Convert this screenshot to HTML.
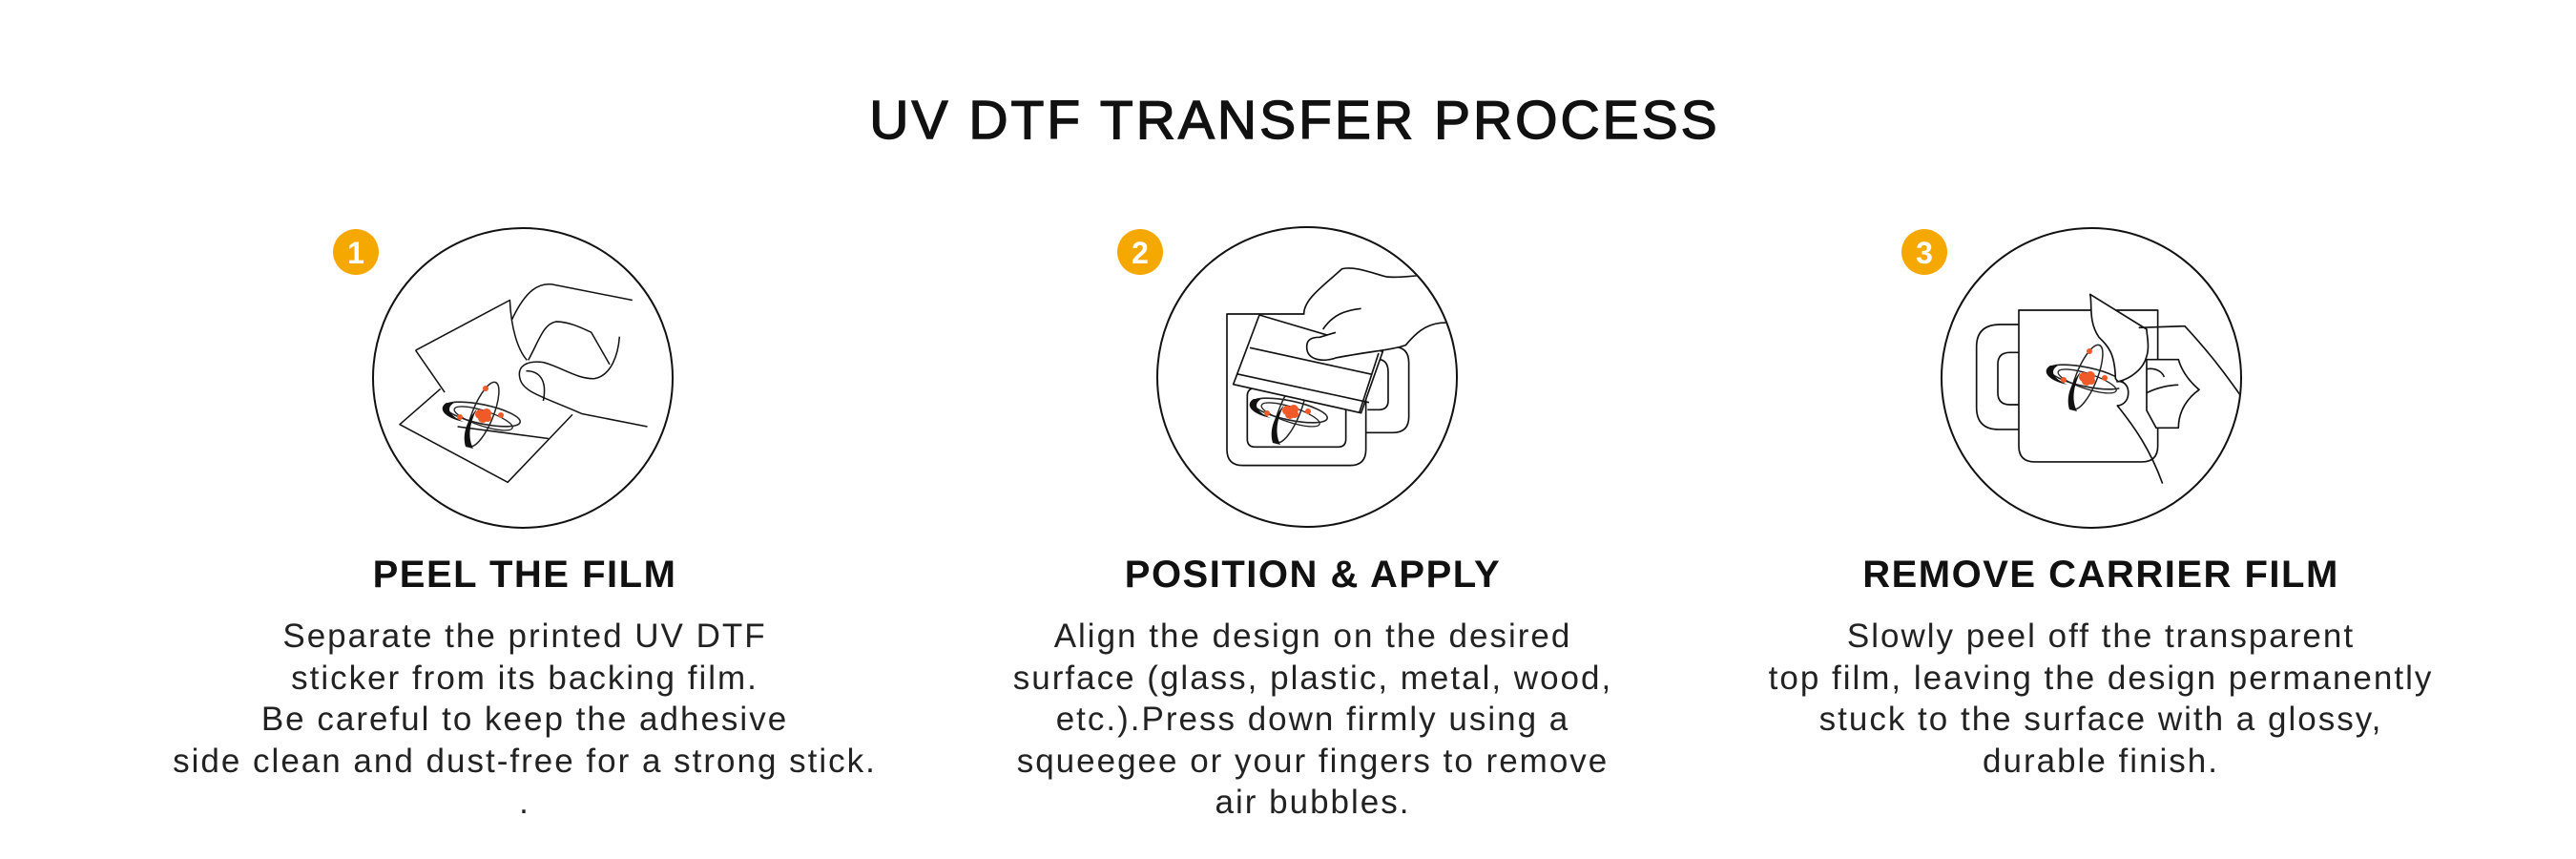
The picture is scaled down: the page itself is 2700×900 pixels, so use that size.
<!DOCTYPE html>
<html><head><meta charset="utf-8"><style>
html,body{margin:0;padding:0;background:#fff;width:2700px;height:900px;overflow:hidden}
svg{display:block}
.t{font-family:"Liberation Sans",sans-serif;fill:#111}
</style></head><body>
<svg width="2700" height="900" viewBox="0 0 2700 900" xmlns="http://www.w3.org/2000/svg">
<defs>
<g id="atom">
  <ellipse cx="0" cy="0" rx="40" ry="10" transform="rotate(12)" fill="none" stroke="#222" stroke-width="1.6"/>
  <path d="M-38,-12 C-48,-6 -40,4 -20,8 C-34,2 -40,-6 -30,-12 Z" fill="#111"/>
  <ellipse cx="2" cy="4" rx="32" ry="8" transform="rotate(18)" fill="none" stroke="#222" stroke-width="1.3"/>
  <ellipse cx="0" cy="0" rx="36" ry="11" transform="rotate(-68)" fill="none" stroke="#222" stroke-width="1.5"/>
  <path d="M-18,34 C-22,20 -16,6 -6,-6 C-14,10 -16,24 -10,36 Z" fill="#111"/>
  <circle cx="-3" cy="0" r="5" fill="#f05a28"/><circle cx="4" cy="-1" r="5" fill="#f05a28"/>
  <circle cx="0" cy="4" r="5" fill="#f05a28"/><circle cx="5" cy="4" r="4" fill="#f05a28"/>
  <circle cx="-24" cy="3" r="3" fill="#f05a28"/><circle cx="19" cy="1" r="3" fill="#f05a28"/><circle cx="3" cy="-27" r="3" fill="#f05a28"/>
</g>
<clipPath id="c1"><circle cx="548" cy="396" r="156"/></clipPath>
<clipPath id="c2"><circle cx="1370" cy="395" r="156"/></clipPath>
<clipPath id="c3"><circle cx="2192" cy="396" r="156"/></clipPath>
</defs>

<text class="t" x="1357" y="145" font-size="57" text-anchor="middle" letter-spacing="3" stroke="#111" stroke-width="1.4">UV DTF TRANSFER PROCESS</text>

<!-- badges -->
<g font-family="Liberation Sans,sans-serif" font-weight="bold" font-size="32" fill="#fff" text-anchor="middle">
<circle cx="373" cy="264" r="24" fill="#f5a800"/><text x="373" y="276">1</text>
<circle cx="1195" cy="264" r="24" fill="#f5a800"/><text x="1195" y="276">2</text>
<circle cx="2017" cy="264" r="24" fill="#f5a800"/><text x="2017" y="276">3</text>
</g>

<!-- illustration 1 -->
<g clip-path="url(#c1)">
<g transform="translate(300,200) scale(0.449)" fill="none" stroke="#111" stroke-width="3.4" stroke-linejoin="round">
  <path d="M360,462 L265,545 L517,680 L668,522"/>
  <path d="M302,372 L522,255 C525,320 540,370 562,395 M302,372 L370,470 M400,550 L612,578"/>
  <path d="M527,300 C560,230 590,215 620,218 L808,255"/>
  <path d="M778,340 C775,380 760,430 720,438 C680,440 640,410 600,400 C560,395 540,410 545,435 C550,470 600,480 690,520 L843,550"/>
  <path d="M565,395 C590,350 600,310 630,305 C660,305 690,320 712,330 L755,405"/>
  <path d="M560,420 C590,420 610,440 600,490"/>
</g>
<use href="#atom" x="506" y="434"/>
</g>

<!-- illustration 2 -->
<g clip-path="url(#c2)">
<g transform="translate(1200,230) scale(0.3333)" fill="none" stroke="#111" stroke-width="5" stroke-linejoin="round">
  <path d="M258,297 L695,297 L695,723 Q695,773 645,773 L308,773 Q258,773 258,723 Z" fill="#fff"/>
  <path d="M347,530 L607,530 Q632,530 632,555 L632,690 Q632,715 607,715 L347,715 Q322,715 322,690 L322,555 Q322,530 347,530 Z"/>
  <path d="M740,400 L780,400 Q830,400 830,450 L830,620 Q830,670 780,670 L695,670"/>
  <path d="M740,440 Q765,445 765,480 L765,570 Q765,598 735,598 L700,598"/>
</g>
<use href="#atom" x="1352" y="430"/>
<g transform="translate(1200,230) scale(0.3333)" fill="none" stroke="#111" stroke-width="5" stroke-linejoin="round">
  <path d="M500,297 C500,250 560,210 620,155 C660,145 720,170 760,180 C800,185 840,175 855,175 L1000,175 L1000,325 L930,325 C880,330 850,360 820,395 L740,415 L560,330 Z" fill="#fff" stroke="none"/>
  <path d="M500,297 C500,250 560,210 620,155 C660,145 720,170 760,180 C800,185 840,175 900,175"/>
  <path d="M360,300 L748,415 L680,608 L278,518 Z" fill="#fff"/>
  <path d="M330,403 L715,487 M288,485 L705,575 M735,420 L675,605"/>
  <path d="M1000,322 L930,325 C880,330 850,360 820,395 C780,410 700,415 600,435 C560,450 515,440 510,410 C505,380 520,370 550,370 L600,355" fill="#fff"/>
  <path d="M560,345 C590,300 630,285 680,280"/>
</g>
</g>

<!-- illustration 3 -->
<g clip-path="url(#c3)">
<g transform="translate(2020,230) scale(0.3333)" fill="none" stroke="#111" stroke-width="5" stroke-linejoin="round">
  <path d="M288,285 L725,285 L725,712 Q725,762 675,762 L338,762 Q288,762 288,712 Z" fill="#fff"/>
  <path d="M288,330 L230,330 Q155,330 155,400 L155,590 Q155,660 225,660 L288,660"/>
  <path d="M288,418 L260,418 Q222,418 222,455 L222,545 Q222,582 260,582 L288,582"/>
</g>
<use href="#atom" x="2187" y="395"/>
<g transform="translate(2020,230) scale(0.3333)" fill="none" stroke="#111" stroke-width="5" stroke-linejoin="round">
  <path d="M512,235 C520,260 505,320 540,370 C570,400 590,420 592,500 L600,510 C640,500 680,470 690,430 C700,400 690,360 690,345 Z" fill="#fff"/>
  <path d="M690,440 L790,440 C800,475 820,505 855,535 C820,560 790,600 790,655 L720,655 L690,600 Z" fill="#fff"/>
  <path d="M665,340 L810,335 C870,400 920,460 990,560"/>
  <path d="M690,470 C720,465 740,480 745,495 M690,545 C720,530 760,520 790,520"/>
  <path d="M595,510 C615,505 635,520 632,550 C630,575 610,585 598,585 C650,650 700,720 740,830" fill="#fff"/>
</g>
</g>

<!-- circles -->
<g fill="none" stroke="#111" stroke-width="2">
<circle cx="548" cy="396" r="157"/>
<circle cx="1370" cy="395" r="157"/>
<circle cx="2192" cy="396" r="157"/>
</g>

<!-- headings -->
<g font-size="40" font-weight="bold" text-anchor="middle" letter-spacing="1.5" fill="#111" font-family="Liberation Sans,sans-serif">
<text x="550" y="615">PEEL THE FILM</text>
<text x="1376" y="615">POSITION &amp; APPLY</text>
<text x="2202" y="615">REMOVE CARRIER FILM</text>
</g>

<!-- body -->
<g font-family="Liberation Sans,sans-serif" font-size="35" text-anchor="middle" fill="#222" letter-spacing="2">
<text x="550" y="678">Separate the printed UV DTF</text>
<text x="550" y="722">sticker from its backing film.</text>
<text x="550" y="765">Be careful to keep the adhesive</text>
<text x="550" y="809">side clean and dust-free for a strong stick.</text>
<text x="550" y="852">.</text>
<text x="1376" y="678">Align the design on the desired</text>
<text x="1376" y="722">surface (glass, plastic, metal, wood,</text>
<text x="1376" y="765">etc.).Press down firmly using a</text>
<text x="1376" y="809">squeegee or your fingers to remove</text>
<text x="1376" y="852">air bubbles.</text>
<text x="2202" y="678">Slowly peel off the transparent</text>
<text x="2202" y="722">top film, leaving the design permanently</text>
<text x="2202" y="765">stuck to the surface with a glossy,</text>
<text x="2202" y="809">durable finish.</text>
</g>
</svg>
</body></html>
